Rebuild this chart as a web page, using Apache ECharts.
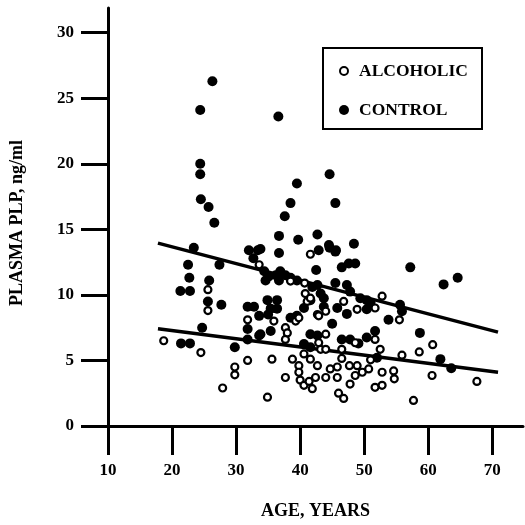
<!DOCTYPE html>
<html>
<head>
<meta charset="utf-8">
<script src="https://cdn.jsdelivr.net/npm/echarts@6/dist/echarts.min.js"></script>
<style>
  html, body { margin: 0; padding: 0; background: #fff; }
  #chart { width: 525px; height: 525px; }
</style>
</head>
<body>
<div id="chart"></div>
<script>
// Plasma PLP (ng/ml) against age for alcoholic patients and controls
const xTicks = [10, 20, 30, 40, 50, 60, 70];
const yTicks = [0, 5, 10, 15, 20, 25, 30];

// [age in years, plasma PLP ng/ml]
const alcoholic = [
  [18.7, 6.5], [24.5, 5.6], [25.6, 10.4], [25.6, 8.8], [27.9, 2.9],
  [29.8, 4.5], [29.8, 3.9], [31.8, 8.1], [31.8, 5.0], [33.6, 12.3],
  [38.5, 11.05], [40.7, 10.9], [40.8, 10.1], [41.1, 9.5], [41.6, 13.1],
  [35.9, 8.0], [39.3, 8.0], [42.7, 8.5], [37.7, 7.5], [37.7, 6.6],
  [35.6, 5.1], [38.8, 5.1], [39.8, 4.6], [39.8, 4.1], [40.0, 3.5],
  [40.6, 3.1], [41.9, 2.85], [37.7, 3.7], [34.9, 2.2], [40.6, 5.5],
  [41.6, 5.1], [42.7, 4.6], [42.4, 3.7], [41.4, 3.4], [42.9, 6.35],
  [43.2, 5.85], [44.0, 7.0], [44.0, 5.85], [46.5, 5.85], [46.5, 5.15],
  [48.6, 6.35], [52.5, 5.85], [55.9, 5.4], [51.0, 5.05], [44.7, 4.35],
  [45.8, 4.5], [44.0, 3.7], [45.8, 3.7], [47.7, 4.6], [48.9, 4.6],
  [49.7, 4.1], [48.6, 3.85], [50.7, 4.35], [47.8, 3.2], [52.8, 4.1],
  [54.6, 4.2], [54.7, 3.6], [51.7, 2.95], [52.8, 3.1], [46.0, 2.5],
  [46.8, 2.1], [55.5, 8.1], [52.8, 9.9], [51.7, 9.0], [46.8, 9.5],
  [48.9, 8.9], [39.8, 8.25], [44.0, 8.75], [51.7, 6.6], [58.6, 5.65],
  [60.7, 6.2], [60.6, 3.85], [57.7, 1.95], [67.6, 3.4], [41.6, 9.75],
  [42.9, 8.4], [38.0, 7.1]
];

const control = [
  [26.3, 26.3], [24.4, 24.1], [24.4, 20.0], [24.4, 19.2], [24.5, 17.3],
  [25.7, 16.7], [26.6, 15.5], [23.4, 13.6], [22.5, 12.3], [27.4, 12.3],
  [22.7, 11.3], [25.8, 11.1], [21.3, 10.3], [22.8, 10.3], [25.6, 9.5],
  [27.7, 9.25], [24.7, 7.5], [21.4, 6.3], [22.8, 6.3], [29.8, 6.0],
  [31.8, 9.1], [32.8, 9.1], [31.8, 7.4], [31.8, 6.6], [33.6, 8.4],
  [33.6, 6.9], [32.0, 13.4], [33.4, 13.4], [32.7, 12.8], [36.7, 14.5],
  [39.7, 14.2], [42.7, 14.6], [36.7, 13.2], [42.9, 13.4], [42.5, 11.9],
  [34.4, 11.8], [35.1, 11.4], [36.2, 11.5], [36.9, 11.8], [37.7, 11.5],
  [34.6, 11.1], [36.7, 11.1], [38.5, 11.3], [39.5, 11.1], [41.9, 10.6],
  [42.7, 10.75], [41.6, 9.6], [34.9, 9.6], [36.4, 9.6], [35.4, 8.95],
  [36.4, 8.95], [35.0, 8.5], [38.5, 8.25], [39.5, 8.4], [44.5, 13.8],
  [45.5, 13.3], [48.4, 13.9], [46.5, 12.1], [47.6, 12.4], [48.6, 12.4],
  [57.2, 12.1], [45.5, 10.9], [47.3, 10.75], [43.2, 10.1], [43.7, 9.75],
  [47.8, 10.25], [49.4, 9.75], [50.4, 9.6], [51.0, 9.4], [45.8, 9.0],
  [43.7, 9.1], [47.3, 8.55], [50.4, 8.9], [55.6, 9.25], [55.9, 8.75],
  [53.8, 8.1], [45.0, 7.8], [62.4, 10.8], [64.6, 11.3], [40.6, 9.0],
  [35.4, 7.25], [41.6, 7.0], [42.7, 6.9], [46.5, 6.6], [47.8, 6.6],
  [49.1, 6.3], [50.4, 6.75], [51.7, 7.25], [40.6, 6.25], [41.6, 6.0],
  [52.0, 5.2], [58.7, 7.1], [61.9, 5.1], [63.6, 4.4], [33.8, 7.0],
  [36.6, 23.6], [44.6, 19.2], [39.5, 18.5], [38.5, 17.0], [45.5, 17.0],
  [37.6, 16.0], [44.6, 13.6], [45.6, 13.4], [33.8, 13.5]
];

// Regression line end points for each group
const alcoholicFit = [[17.8, 7.41], [70.9, 4.10]];
const controlFit = [[17.8, 13.95], [70.9, 7.16]];

const FONT = '"Liberation Serif", "DejaVu Serif", serif';
const INK = '#000';

const chart = echarts.init(document.getElementById('chart'), null, { renderer: 'canvas' });

chart.setOption({
  backgroundColor: '#fff',
  animation: false,
  grid: { left: 107, right: 2, top: 8, bottom: 94 },
  xAxis: {
    type: 'value',
    min: 10,
    max: 74.8,
    interval: 10,
    name: 'AGE, YEARS',
    nameLocation: 'middle',
    nameGap: 76,
    nameTextStyle: { fontFamily: FONT, fontWeight: 'bold', fontSize: 18, color: INK },
    axisLine: { show: true, onZero: false, lineStyle: { color: INK, width: 3 } },
    axisTick: { show: true, length: 29, customValues: xTicks, lineStyle: { color: INK, width: 3 } },
    axisLabel: {
      customValues: xTicks, margin: 36,
      fontFamily: FONT, fontWeight: 'bold', fontSize: 17, color: INK
    },
    splitLine: { show: false }
  },
  yAxis: {
    type: 'value',
    min: 0,
    max: 31.88,
    interval: 5,
    name: 'PLASMA PLP, ng/ml',
    nameLocation: 'middle',
    nameRotate: 90,
    nameGap: 82,
    nameTextStyle: {
      fontFamily: FONT, fontWeight: 'bold', fontSize: 18, color: INK,
      padding: [0, 12, 0, 0]
    },
    axisLine: { show: true, onZero: false, lineStyle: { color: INK, width: 3 } },
    axisTick: { show: true, length: 27, customValues: yTicks, lineStyle: { color: INK, width: 3 } },
    axisLabel: {
      customValues: yTicks, margin: 34,
      fontFamily: FONT, fontWeight: 'bold', fontSize: 17, color: INK
    },
    splitLine: { show: false }
  },
  legend: [
    {
      data: [{ name: 'ALCOHOLIC', icon: 'circle' }],
      left: 339, top: 62,
      itemWidth: 20, itemHeight: 8,
      padding: 0,
      selectedMode: false,
      itemStyle: { color: '#fff', borderColor: INK, borderWidth: 2 },
      textStyle: { fontFamily: FONT, fontWeight: 'bold', fontSize: 17.5, color: INK }
    },
    {
      data: [{ name: 'CONTROL', icon: 'circle' }],
      left: 339, top: 101,
      itemWidth: 20, itemHeight: 10,
      padding: 0,
      selectedMode: false,
      itemStyle: { color: INK, borderWidth: 0 },
      textStyle: { fontFamily: FONT, fontWeight: 'bold', fontSize: 17.5, color: INK }
    }
  ],
  graphic: [
    {
      type: 'rect',
      shape: { x: 323, y: 48, width: 159, height: 81 },
      style: { fill: 'none', stroke: INK, lineWidth: 2 },
      silent: true
    }
  ],
  series: [
    {
      name: 'alcoholic-fit',
      type: 'line',
      data: alcoholicFit,
      symbol: 'none',
      z: 1,
      lineStyle: { color: INK, width: 3.5 }
    },
    {
      name: 'control-fit',
      type: 'line',
      data: controlFit,
      symbol: 'none',
      z: 1,
      lineStyle: { color: INK, width: 3.5 }
    },
    {
      name: 'CONTROL',
      type: 'scatter',
      data: control,
      symbol: 'circle',
      symbolSize: 10,
      z: 2,
      itemStyle: { color: INK, opacity: 1 }
    },
    {
      name: 'ALCOHOLIC',
      type: 'scatter',
      data: alcoholic,
      symbol: 'circle',
      symbolSize: 7,
      z: 3,
      itemStyle: { color: '#fff', borderColor: INK, borderWidth: 2.2, opacity: 1 }
    }
  ]
});
</script>
</body>
</html>
